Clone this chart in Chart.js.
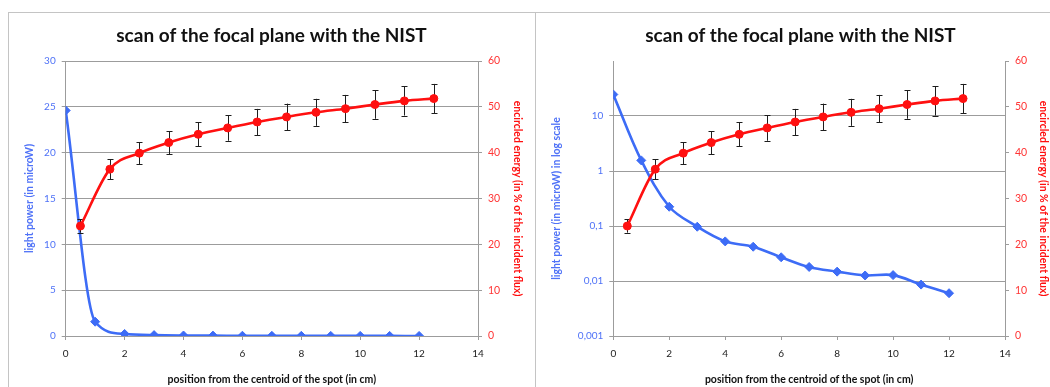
<!DOCTYPE html>
<html>
<head>
<meta charset="utf-8">
<script src="https://cdn.jsdelivr.net/npm/chart.js@4.4.1/dist/chart.umd.min.js"></script>
<style>
  html, body { margin: 0; padding: 0; background: #fff; width: 1050px; height: 387px; overflow: hidden; }
  .panel { position: absolute; box-sizing: border-box; border-color: #c4c4c4; border-style: solid; }
  #p1 { left: 8px; top: 12px; width: 528px; height: 400px; border-width: 1px 1px 0 1px; }
  #p2 { left: 535px; top: 12px; width: 600px; height: 400px; border-width: 1px 0 0 0; }
  canvas { position: absolute; top: 0; }
  #c1 { left: 8px; }
  #c2 { left: 537px; }
</style>
</head>
<body>
<div class="panel" id="p1"></div>
<div class="panel" id="p2"></div>
<canvas id="c1" width="527" height="387"></canvas>
<canvas id="c2" width="527" height="387"></canvas>
<script>
// ---- data ----
const positions = [0, 1, 2, 3, 4, 5, 6, 7, 8, 9, 10, 11, 12];
const lightPower = [24.6, 1.56, 0.224, 0.097, 0.0525, 0.042, 0.027, 0.018, 0.0148, 0.0126, 0.0128, 0.0086, 0.006];
const eePositions = [0.5, 1.5, 2.5, 3.5, 4.5, 5.5, 6.5, 7.5, 8.5, 9.5, 10.5, 11.5, 12.5];
const encircled = [24.0, 36.4, 39.9, 42.2, 44.0, 45.4, 46.7, 47.8, 48.8, 49.6, 50.5, 51.3, 51.8];
const encircledErr = [1.45, 2.2, 2.4, 2.5, 2.65, 2.8, 2.85, 2.9, 2.95, 3.0, 3.1, 3.2, 3.2];
const xTicks = [0, 2, 4, 6, 8, 10, 12, 14];
const linPowerTicks = [0, 5, 10, 15, 20, 25, 30];
const logPowerTicks = [0.001, 0.01, 0.1, 1, 10, 100];
const logPowerLabels = ['0,001', '0,01', '0,1', '1', '10', ''];
const eeTicks = [0, 10, 20, 30, 40, 50, 60];
const chartTitle = 'scan of the focal plane with the NIST';
const xTitle = 'position from the centroid of the spot (in cm)';
const yTitleLin = 'light power (in microW)';
const yTitleLog = 'light power (in microW) in log scale';
const y1Title = 'encircled energy (in % of the incident flux)';

const BLUE = '#3d6cf6';
const BLUE_TXT = '#4f72f7';
const RED = '#ff1010';
const RED_TXT = '#ff3535';
const GRID = '#9c9c9c';
const FONT = 'Lato, "Open Sans", sans-serif';

const errorBars = {
  id: 'errorBars',
  beforeDatasetDraw(chart, args) {
    const ds = chart.data.datasets[args.index];
    if (!ds.errors) return;
    const xs = chart.scales.x, ys = chart.scales[ds.yAxisID];
    const ctx = chart.ctx;
    ctx.save();
    ctx.strokeStyle = '#1e1e1e';
    ctx.lineWidth = 1;
    ds.data.forEach((p, i) => {
      const e = ds.errors[i];
      const px = Math.round(xs.getPixelForValue(p.x)) + 0.5;
      const yt = ys.getPixelForValue(p.y + e);
      const yb = ys.getPixelForValue(p.y - e);
      ctx.beginPath();
      ctx.moveTo(px, yt); ctx.lineTo(px, yb);
      ctx.moveTo(px - 3, Math.round(yt) + 0.5); ctx.lineTo(px + 3, Math.round(yt) + 0.5);
      ctx.moveTo(px - 3, Math.round(yb) + 0.5); ctx.lineTo(px + 3, Math.round(yb) + 0.5);
      ctx.stroke();
    });
    ctx.restore();
  }
};

function fixedWidth(w) { return s => { s.width = w; }; }

function makeChart(id, log, leftW, rightW, yTitlePad, y1TitlePad) {
  const powerData = positions.map((x, i) => ({ x, y: lightPower[i] }));
  const eeData = eePositions.map((x, i) => ({ x, y: encircled[i] }));
  return new Chart(document.getElementById(id), {
    type: 'line',
    data: {
      datasets: [
        {
          data: eeData, errors: encircledErr, yAxisID: 'y1', order: 0,
          borderColor: RED, backgroundColor: RED, borderWidth: 2.6,
          pointStyle: 'circle', pointRadius: 4, pointBorderWidth: 1,
          cubicInterpolationMode: 'monotone'
        },
        {
          data: powerData, yAxisID: 'y', order: 1,
          borderColor: BLUE, backgroundColor: BLUE, borderWidth: 2.6,
          pointStyle: 'rectRot', pointRadius: 4.5, pointBorderWidth: 1,
          cubicInterpolationMode: log ? 'default' : 'monotone', tension: log ? 0.35 : 0
        }
      ]
    },
    options: {
      responsive: false, animation: false, devicePixelRatio: 1,
      layout: { padding: 0 },
      plugins: {
        legend: { display: false }, tooltip: { enabled: false },
        title: {
          display: true, text: chartTitle, color: '#111',
          font: { family: FONT, size: 19, weight: 'bold' },
          padding: { top: 24.1, bottom: 14.1 }
        }
      },
      scales: {
        x: {
          type: 'linear', min: 0, max: 14,
          afterBuildTicks: s => { s.ticks = xTicks.map(v => ({ value: v })); },
          afterFit: s => { s.height = 51; },
          ticks: { color: '#222', font: { family: FONT, size: 10 }, padding: 8, maxRotation: 0 },
          grid: { drawOnChartArea: false, color: GRID, tickLength: 4 },
          border: { color: GRID },
          title: { display: true, text: xTitle, color: '#111', font: { family: FONT, size: 10.5, weight: 'bold' }, padding: { top: 0, bottom: 1 } }
        },
        y: {
          type: log ? 'logarithmic' : 'linear', position: 'left',
          min: log ? 0.001 : 0, max: log ? 100 : 30,
          afterBuildTicks: s => { s.ticks = (log ? logPowerTicks : linPowerTicks).map(v => ({ value: v })); },
          afterFit: fixedWidth(leftW),
          ticks: {
            color: BLUE_TXT, font: { family: FONT, size: 10 }, padding: 6,
            callback: (v) => log ? logPowerLabels[logPowerTicks.indexOf(v)] : String(v)
          },
          grid: {
            color: c => (log && c.tick && c.tick.value === 100) ? 'rgba(0,0,0,0)' : GRID,
            tickLength: 4
          },
          border: { color: GRID },
          title: { display: true, text: log ? yTitleLog : yTitleLin, color: BLUE_TXT, font: { family: FONT, size: 10.5, weight: 'bold' }, padding: { top: yTitlePad, bottom: 0 } }
        },
        y1: {
          type: 'linear', position: 'right', min: 0, max: 60,
          afterBuildTicks: s => { s.ticks = eeTicks.map(v => ({ value: v })); },
          afterFit: fixedWidth(rightW),
          ticks: { color: RED_TXT, font: { family: FONT, size: 10.5 }, padding: 6 },
          grid: { drawOnChartArea: false, color: GRID, tickLength: 4 },
          border: { color: GRID },
          title: { display: true, text: y1Title, color: RED, font: { family: FONT, size: 10.5, weight: 'bold' }, padding: { top: y1TitlePad, bottom: 0 } }
        }
      }
    },
    plugins: [errorBars]
  });
}

makeChart('c1', false, 57.7, 57, 15.4, 11.4);
makeChart('c2', true, 76.3, 59, 13.4, 14.4);
</script>
</body>
</html>
